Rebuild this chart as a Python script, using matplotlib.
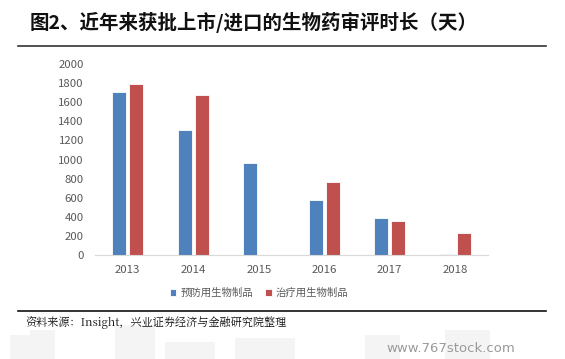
import matplotlib
matplotlib.use("Agg")
import matplotlib.pyplot as plt
import numpy as np
from matplotlib.patches import Rectangle

plt.rcParams['font.family'] = ['Noto Sans CJK SC', 'DejaVu Sans']

years = ['2013', '2014', '2015', '2016', '2017', '2018']
preventive = [1710, 1310, 960, 575, 390, 10]
therapeutic = [1790, 1680, 0, 760, 356, 227]
series_names = ['预防用生物制品', '治疗用生物制品']
colors = ['#4F81BD', '#C0504D']

W, H = 565, 359
fig = plt.figure(figsize=(W/100, H/100), dpi=100)

# faint background watermark shapes
bg = fig.add_axes([0, 0, 1, 1], zorder=-5)
bg.set_xlim(0, W); bg.set_ylim(H, 0); bg.axis('off')
for (x0, y0, w, h) in [(10, 335, 20, 24), (30, 330, 25, 29), (115, 325, 40, 34), (165, 342, 50, 17),
                       (235, 338, 60, 21), (365, 335, 35, 24), (445, 330, 45, 29)]:
    bg.add_patch(Rectangle((x0, y0), w, h, color='#F4F4F4', lw=0))
bg.text(515, 348, 'www.767stock.com', ha='right', va='center', fontsize=9.5, color='#9A9A9A', family='DejaVu Sans')

# title and rules
fig.text(30/W, 1-22/H, '图2、近年来获批上市/进口的生物药审评时长（天）', fontsize=14, fontweight='bold',
         ha='left', va='center', color='#111111')
fig.add_artist(plt.Line2D([18/W, 546/W], [1-46/H, 1-46/H], color='#333333', lw=1.2))
fig.add_artist(plt.Line2D([18/W, 546/W], [1-311/H, 1-311/H], color='#111111', lw=1.2))
fig.text(25/W, 1-323/H, '资料来源：Insight，兴业证券经济与金融研究院整理', fontsize=8,
         ha='left', va='center', color='#111111', family=['Noto Serif CJK SC', 'Noto Sans CJK SC', 'DejaVu Sans'])

# main axes
left, right = 95/W, 488/W
bottom, top = 1-255/H, 1-64/H
ax = fig.add_axes([left, bottom, right-left, top-bottom])
x = np.arange(len(years))
bw = 0.22
gap = 0.04
b1 = ax.bar(x - bw/2 - gap/2, preventive, bw, color=colors[0], edgecolor='white', linewidth=0.6, label=series_names[0])
b2 = ax.bar(x + bw/2 + gap/2, therapeutic, bw, color=colors[1], edgecolor='white', linewidth=0.6, label=series_names[1])
ax.set_xlim(-0.5, len(years)-0.5)
ax.set_ylim(0, 2000)
ax.set_yticks(range(0, 2001, 200))
ax.set_xticks(x)
ax.set_xticklabels(years)
for s in ['top', 'right', 'left']:
    ax.spines[s].set_visible(False)
ax.spines['bottom'].set_color('#D9D9D9')
ax.tick_params(axis='both', length=0, labelsize=8.2, colors='#595959')
ax.tick_params(axis='y', pad=8)
ax.tick_params(axis='x', pad=7)

leg = fig.legend(handles=[b1, b2], labels=series_names, loc='center', bbox_to_anchor=(259/W, 1-293/H),
                 ncol=2, frameon=False, fontsize=7.5, handlelength=0.6, handleheight=0.6,
                 columnspacing=1.2, handletextpad=0.4)
for t in leg.get_texts():
    t.set_color('#595959')

fig.savefig('out.png', dpi=100)
